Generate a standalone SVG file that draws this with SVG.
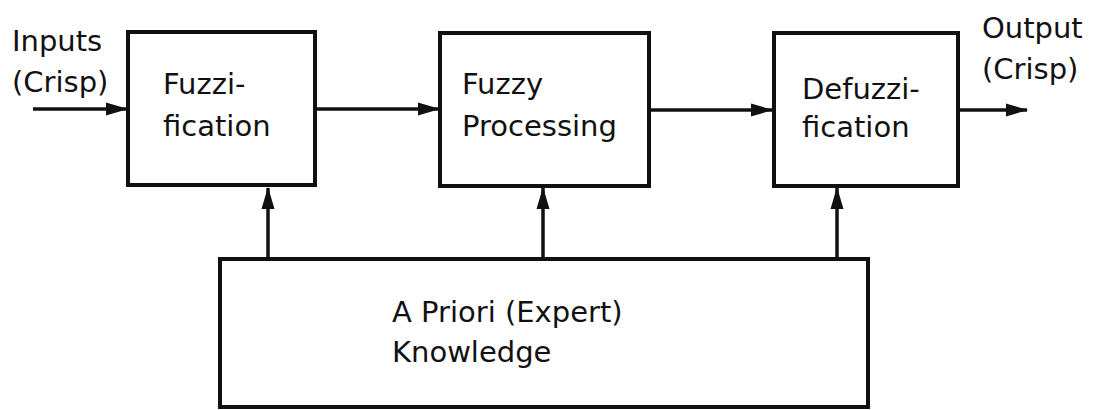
<svg xmlns="http://www.w3.org/2000/svg" width="1094" height="410" viewBox="0 0 1094 410">
<style>
.box{fill:#fff;stroke:#111;stroke-width:4}
.ln{fill:none;stroke:#111;stroke-width:3.5}
text{font-family:"DejaVu Sans","Liberation Sans",sans-serif;font-size:29px;fill:#111}
</style>
<defs>
<marker id="ah" viewBox="0 0 22 16" refX="21" refY="8" markerWidth="22" markerHeight="16" markerUnits="userSpaceOnUse" orient="auto">
<path d="M0,1.5 L22,8 L0,14.5 Z" fill="#111"/>
</marker>
</defs>
<rect width="1094" height="410" fill="#fff"/>
<g id="connectors">
<line class="ln" x1="33" y1="109" x2="127" y2="109" marker-end="url(#ah)"/>
<line class="ln" x1="315" y1="109" x2="439" y2="109" marker-end="url(#ah)"/>
<line class="ln" x1="649" y1="110" x2="772" y2="110" marker-end="url(#ah)"/>
<line class="ln" x1="958" y1="110" x2="1027" y2="110" marker-end="url(#ah)"/>
<line class="ln" x1="268" y1="259" x2="268" y2="188" marker-end="url(#ah)"/>
<line class="ln" x1="543" y1="259" x2="543" y2="188" marker-end="url(#ah)"/>
<line class="ln" x1="837" y1="259" x2="837" y2="188" marker-end="url(#ah)"/>
</g>
<g id="inputs">
<text x="12" y="51">Inputs</text>
<text x="12" y="92">(Crisp)</text>
</g>
<g id="output">
<text x="982" y="38">Output</text>
<text x="982" y="79">(Crisp)</text>
</g>
<g id="fuzzification">
<rect class="box" x="128" y="32" width="187" height="153"/>
<text x="163" y="94">Fuzzi-</text>
<text x="163" y="136">fication</text>
</g>
<g id="fuzzy-processing">
<rect class="box" x="440" y="33" width="209" height="153"/>
<text x="462" y="94">Fuzzy</text>
<text x="462" y="136">Processing</text>
</g>
<g id="defuzzification">
<rect class="box" x="774" y="33" width="184" height="153"/>
<text x="802" y="99">Defuzzi-</text>
<text x="802" y="137">fication</text>
</g>
<g id="knowledge">
<rect class="box" x="220" y="259" width="648" height="148"/>
<text x="392" y="322">A Priori (Expert)</text>
<text x="392" y="362">Knowledge</text>
</g>
</svg>
